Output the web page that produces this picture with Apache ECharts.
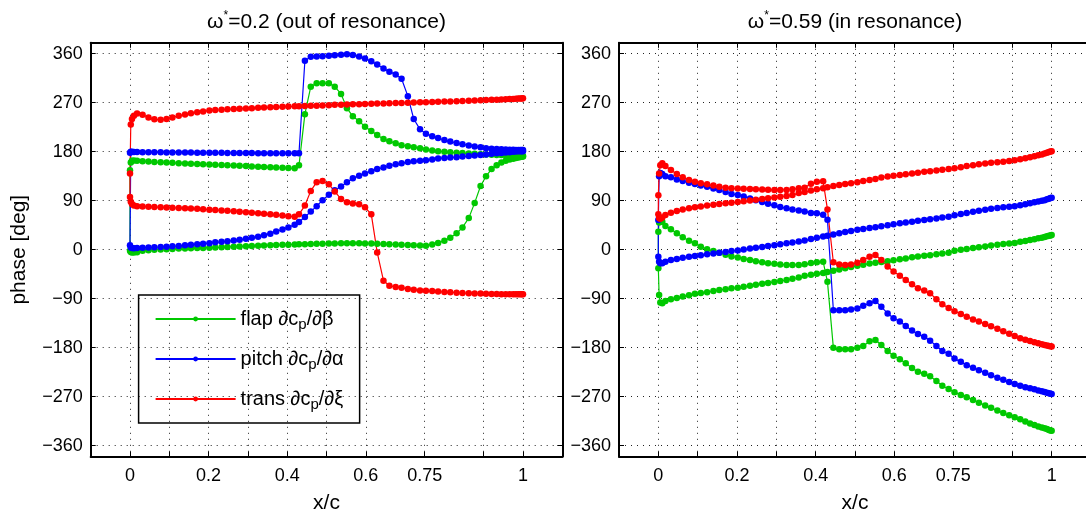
<!DOCTYPE html>
<html><head><meta charset="utf-8">
<script src="https://cdn.jsdelivr.net/npm/echarts@6/dist/echarts.min.js"></script>
<style>html,body{margin:0;padding:0;background:#fff}#c{width:1086px;height:519px}</style>
</head><body><div id="c"></div>
<script>
// chordwise stations x/c (shared by all curves)
const xGrid = [
  0,0.002,0.005,0.01,0.018,0.032,0.047,0.062,0.078,0.093,
  0.108,0.124,0.14,0.155,0.171,0.186,0.202,0.217,0.233,0.248,
  0.264,0.279,0.295,0.31,0.326,0.341,0.357,0.372,0.388,0.403,
  0.419,0.43,0.445,0.46,0.475,0.49,0.506,0.521,0.537,0.552,
  0.567,0.583,0.598,0.614,0.629,0.645,0.66,0.676,0.691,0.707,
  0.722,0.738,0.753,0.769,0.784,0.8,0.815,0.831,0.846,0.862,
  0.877,0.892,0.906,0.92,0.933,0.945,0.956,0.966,0.975,0.982,
  0.988,0.993,0.997,1.0];

// ---- left panel: omega* = 0.2 ----
const leftFlapUp = [
  146,160,163.5,164,163.5,162.5,162,161,160.5,160,
  159.5,159,158.5,158,157.5,157,156.5,156,155.5,155,
  154.5,154,153.5,153,152.5,152,151.5,151,150.5,150,
  149.5,155,249,299.5,305.6,305.6,305.6,299.5,286,260,
  245,236,226,218,210.5,203.5,199,195.5,192,190,
  188,186.3,184,182,181,180,179,178.2,177.5,176.8,
  176,175.5,175,174.5,174,173.7,173.3,173,172.7,172.5,
  172.3,172.2,172,172];
const leftFlapLo = [
  -2,-4,-5,-5,-4.5,-2,-1,0,0.5,1,
  1.5,2,2.3,2.6,3,3.3,3.7,4,4.5,5,
  5.5,6,6.5,7,7.4,7.8,8.2,8.5,9,9.3,
  9.6,9.8,10.2,10.5,10.8,11,11.3,11.5,11.7,11.8,
  11.8,11.7,11.5,11.2,10.8,10.4,10,9.5,9,8.5,
  8,7.5,7.4,9.5,12.5,16.6,22,30,41,58,
  86,117,135,148,155,160,163.5,165.5,167,168.5,
  169.5,170.3,170.8,171];
const leftPitchUp = [
  178,180,180,179.5,179.3,179.2,179,179,178.8,178.7,
  178.6,178.5,178.4,178.3,178.2,178.1,178,178,177.9,177.8,
  177.7,177.6,177.5,177.4,177.3,177.2,177.1,177,177,177,
  177,177,347,354.6,355,355.5,356,357,358,359,
  357.5,355,351,346,340,333,327,322,314,282,
  240,221,213,208.5,205,201.5,198.5,196,193.5,191.5,
  189.5,188,186.5,185.5,185,184.5,184,183.7,183.5,183.3,
  183.2,183.1,183,183];
const leftPitchLo = [
  8,4,3,2.5,3,3.5,4,4.5,5,5.5,
  6.3,7,8,9,10,11,12,13.5,14.5,15.5,
  17,18.5,20,22,24,26.5,29.5,33.5,37,41,
  46,51,60,70,80,91,101,109,116,124,
  131,136,140,144,148,151,154,157,159,161,
  162.5,163.5,164.5,165.5,167.5,168.5,169.3,170,171,172,
  173,174,175,176,177,177.7,178.3,179,179.7,180.2,
  180.6,180.8,181,181];
const leftTransUp = [
  140,230,240,246,250,248,243,239.5,238.5,240,
  243,246,248.5,250.5,252.5,254,255.5,256.5,257,258,
  258.5,259,259.5,260,260.5,261,261.5,262,262.5,263,
  263.3,263.6,264,264.3,264.6,265,265.5,266,266.3,266.6,
  267,267.3,267.6,268,268.3,268.6,269,269.3,269.6,270,
  270.3,270.6,271,271.3,271.7,272,272.4,272.8,273.2,273.6,
  274,274.4,274.8,275.2,275.6,276,276.4,276.7,277,277.3,
  277.5,277.7,277.9,278];
const leftTransLo = [
  97,88,84,81,80,79.5,79,78.5,78,77.5,
  77,76.5,76,75.5,75,74.3,73.6,73,72.2,71.4,
  70.6,69.8,69,68,67,66,65,64,63,61.5,
  60.5,65,81,108,124,126,120,107,93,87,
  85,83.5,78,65,-5,-57,-66,-68.5,-70,-72,
  -73.5,-75,-75.5,-76,-77,-77.5,-78,-79,-79.5,-80,
  -80.3,-80.6,-81,-81.2,-81.4,-81.6,-81.8,-82,-82,-82,
  -82,-82,-82,-82];

// ---- right panel: omega* = 0.59 ----
const rightFlapA = [
  33,50,53,51.5,43.5,37.4,30,22.7,16.6,11.7,
  5.5,0.6,-2.5,-5.5,-9.5,-12.5,-14.5,-17,-19,-21,
  -23,-25,-26,-27,-28,-28,-28,-26.5,-24.5,-23,
  -22,-59,-180,-183,-183,-183,-180,-177,-168,-166,
  -175,-186,-195,-201,-208.5,-217.5,-224,-228,-232.5,-241,
  -250,-256,-262,-267,-271,-276,-281,-286,-290.5,-295.5,
  -300,-304,-307.5,-311.5,-315.5,-319,-322,-324.5,-326.5,-328,
  -329.5,-331,-332,-332.5];
const rightFlapB = [
  -34,-83,-97,-98.5,-94,-91,-88.5,-86,-83.5,-81,
  -79.5,-78,-76,-74,-72.5,-71,-69.8,-68,-66,-64.5,
  -62.5,-61,-59.3,-57.5,-55.7,-53.3,-51,-48,-46,-44.3,
  -43,-41,-38.5,-36.5,-34,-32,-29.5,-27.5,-25.5,-24,
  -22.5,-21,-19.5,-17.7,-16,-14,-12.5,-11.2,-10,-8.5,
  -7,-5.5,-2,0,1.5,3,4.3,6,7.8,9.3,
  10.5,11.5,12.5,14.5,16,17.8,19.3,20.8,22,23.3,
  24.5,25.5,26.3,27];
const rightPitchA = [
  54.6,135,141,139,135,133,129,126,123,120.7,
  118,115.7,112.5,109.7,106,102.5,100.3,97.5,94.2,91,
  87.5,84.3,81.5,78.5,76,73.8,72,70,67.5,67,
  64,55,-111,-111,-111,-110,-108,-103,-98.5,-94,
  -105,-117,-126,-132,-140,-148.5,-155,-160,-167,-177,
  -186,-191,-200,-206,-212,-217,-221.5,-226,-230.5,-235,
  -239,-243,-246.5,-250,-252.5,-254.5,-256.5,-258.5,-260,-261.5,
  -262.7,-263.7,-264.5,-265];
const rightPitchB = [
  -13,-22,-25,-25,-22,-19,-17,-14.7,-13,-11.6,
  -10,-8.5,-7,-5.5,-4,-2.6,-1.3,0.3,2,3.5,
  5,6.6,8.2,10,11.7,13.2,15,17,19.5,22,
  24.2,25.5,28,30.2,32.4,34.5,36.5,38,39.7,41.4,
  43,45,46.8,48.5,50,51.5,53,54.5,55.8,57.3,
  59,60.6,63.5,65.5,67.5,69.5,71.6,73.4,75,76.5,
  77.9,79,80,81.8,83.5,85.2,87,88.5,89.8,91,
  92.5,93.8,94.8,95.5];
const rightTransA = [
  100,140,155,158.7,153.7,146.4,139,133,128,125,
  122,120,117.8,115.7,114,112.8,112.3,111.8,111.4,111,
  110.5,110,109.7,109.7,109.7,111,112.7,114,121,125,
  125.5,74,-23,-27,-28,-27,-24,-19,-13,-9.7,
  -19,-31,-40,-48,-55.5,-63.5,-71,-75,-80,-91,
  -100,-107,-113,-118,-123,-128,-132,-136.5,-140.5,-145,
  -150,-154.5,-158.5,-162.5,-165.5,-167.5,-170,-172,-173.5,-175,
  -176,-177,-177.5,-178];
const rightTransB = [
  65,58,57,59,63.7,68,71,74,76,78,
  79.5,81,82.5,84,85.3,86.4,87.5,89,90.2,91.6,
  93,94.4,95.8,97.2,98.6,100.3,104,106,108.5,111,
  113,114.5,117,119,120.5,122,124,126,128,130,
  132.5,134.5,136,137,138.5,140,141.5,143,144,145.5,
  146.8,148,149.5,151.5,153.5,155.3,157,158.5,159.8,160.8,
  161.7,163,164.3,166,168,169.7,171.5,173.3,175,176.5,
  178,179.3,180.3,181];

// axes / labels
const xTickValues = [0,0.1,0.2,0.3,0.4,0.5,0.6,0.75,0.9,1];
const xTickLabels = [0,0.2,0.4,0.6,0.75,1];
const yTickValues = [-360,-270,-180,-90,0,90,180,270,360];
const panelTitles = ['ω{sup|*}=0.2 (out of resonance)','ω{sup|*}=0.59 (in resonance)'];
const seriesNames = ['flap','pitch','trans'];
const legendTexts = ['flap ∂c{sub|p}/∂β','pitch ∂c{sub|p}/∂α','trans ∂c{sub|p}/∂ξ'];
const seriesColors = ['#00c800','#0000ff','#ff0000'];

const FONT = '"Liberation Sans", Arial, Helvetica, sans-serif';
function loop(up, lo){
  const a = xGrid.map((x,i)=>[x, up[i]]).reverse();
  const b = xGrid.map((x,i)=>[x, lo[i]]);
  return a.concat(b);
}
const panels = [
  [loop(leftFlapUp,leftFlapLo), loop(leftPitchUp,leftPitchLo), loop(leftTransUp,leftTransLo)],
  [loop(rightFlapA,rightFlapB), loop(rightPitchA,rightPitchB), loop(rightTransA,rightTransB)]
];
const minus = v => String(v).replace('-', '\u2212');
const gridBoxes = [
  {left: 90.7, top: 42.8, width: 471.6, height: 413.8, outerBoundsMode:'none', containLabel:false},
  {left: 619, top: 42.8, width: 472, height: 413.8, outerBoundsMode:'none', containLabel:false}
];
const xAxes = [], yAxes = [];
gridBoxes.forEach((g, gi) => {
  ['bottom','top'].forEach(pos => {
    const main = pos === 'bottom';
    xAxes.push({
      type:'value', gridIndex: gi, position: pos, min: -0.1, max: 1.1,
      name: main ? 'x/c' : '', nameLocation:'middle', nameGap: 36,
      nameTextStyle:{fontSize:21, color:'#000', fontFamily: FONT},
      axisLine:{show:true, onZero:false, lineStyle:{color:'#000', width:2}},
      axisTick:{show:true, inside:true, length:5, customValues: xTickValues, lineStyle:{color:'#000', width:1}},
      axisLabel:{show: main, customValues: xTickLabels, margin: 10, fontSize:18, color:'#000', fontFamily: FONT, formatter: v => String(v)},
      splitLine:{show: main, lineStyle:{color:'#222', width:1, type:[1,5]}},
      minorTick:{show:false}
    });
  });
  ['left','right'].forEach(pos => {
    const main = pos === 'left';
    yAxes.push({
      type:'value', gridIndex: gi, position: pos, min: -380, max: 380,
      name: (main && gi === 0) ? 'phase [deg]' : '', nameLocation:'middle', nameGap: 61, nameRotate: 90,
      nameTextStyle:{fontSize:21, color:'#000', fontFamily: FONT},
      axisLine:{show:true, onZero:false, lineStyle:{color:'#000', width:2}},
      axisTick:{show:true, inside:true, length:5, customValues: yTickValues, lineStyle:{color:'#000', width:1}},
      axisLabel:{show: main, customValues: yTickValues, margin: 8, fontSize:18, color:'#000', fontFamily: FONT, formatter: minus},
      splitLine:{show: main, lineStyle:{color:'#222', width:1, type:[1,5]}}
    });
  });
});
const series = [];
panels.forEach((p, pi) => {
  p.forEach((d, si) => {
    series.push({
      type:'line', name: seriesNames[si], data: d,
      xAxisIndex: pi*2, yAxisIndex: pi*2,
      symbol:'circle', symbolSize: 6.5, showSymbol: true,
      lineStyle:{width:1.2, color: seriesColors[si]},
      itemStyle:{color: seriesColors[si]},
      animation:false, silent:true, clip:true
    });
  });
});
const chart = echarts.init(document.getElementById('c'), null, {renderer:'canvas'});
chart.setOption({
  backgroundColor:'#fff',
  animation:false,
  textStyle:{fontFamily: FONT},
  grid: gridBoxes,
  xAxis: xAxes,
  yAxis: yAxes,
  graphic: panelTitles.map((t, i) => ({
    type:'text',
    x: i === 0 ? 326.5 : 855,
    y: 22,
    style:{text: t, align:'center', verticalAlign:'middle', fontSize:21, fontFamily: FONT, fill:'#000',
      rich:{sup:{fontSize:12, padding:[0,0,12,0], fontFamily: FONT, fill:'#000'}}}
  })),
  legend:{
    show:true, orient:'vertical', left:138.6, top:295,
    data: seriesNames, itemWidth:80, itemHeight:6, itemGap:14,
    padding:[11, 16, 11, 16], borderColor:'#000', borderWidth:1.5,
    backgroundColor:'transparent', selectedMode:false,
    formatter: n => legendTexts[seriesNames.indexOf(n)],
    textStyle:{fontSize:20, lineHeight:26, color:'#000', fontFamily: FONT,
      rich:{sub:{fontSize:15, lineHeight:15, verticalAlign:'bottom', fontFamily: FONT, color:'#000'}}}
  },
  series: series
});
</script>
</body></html>
